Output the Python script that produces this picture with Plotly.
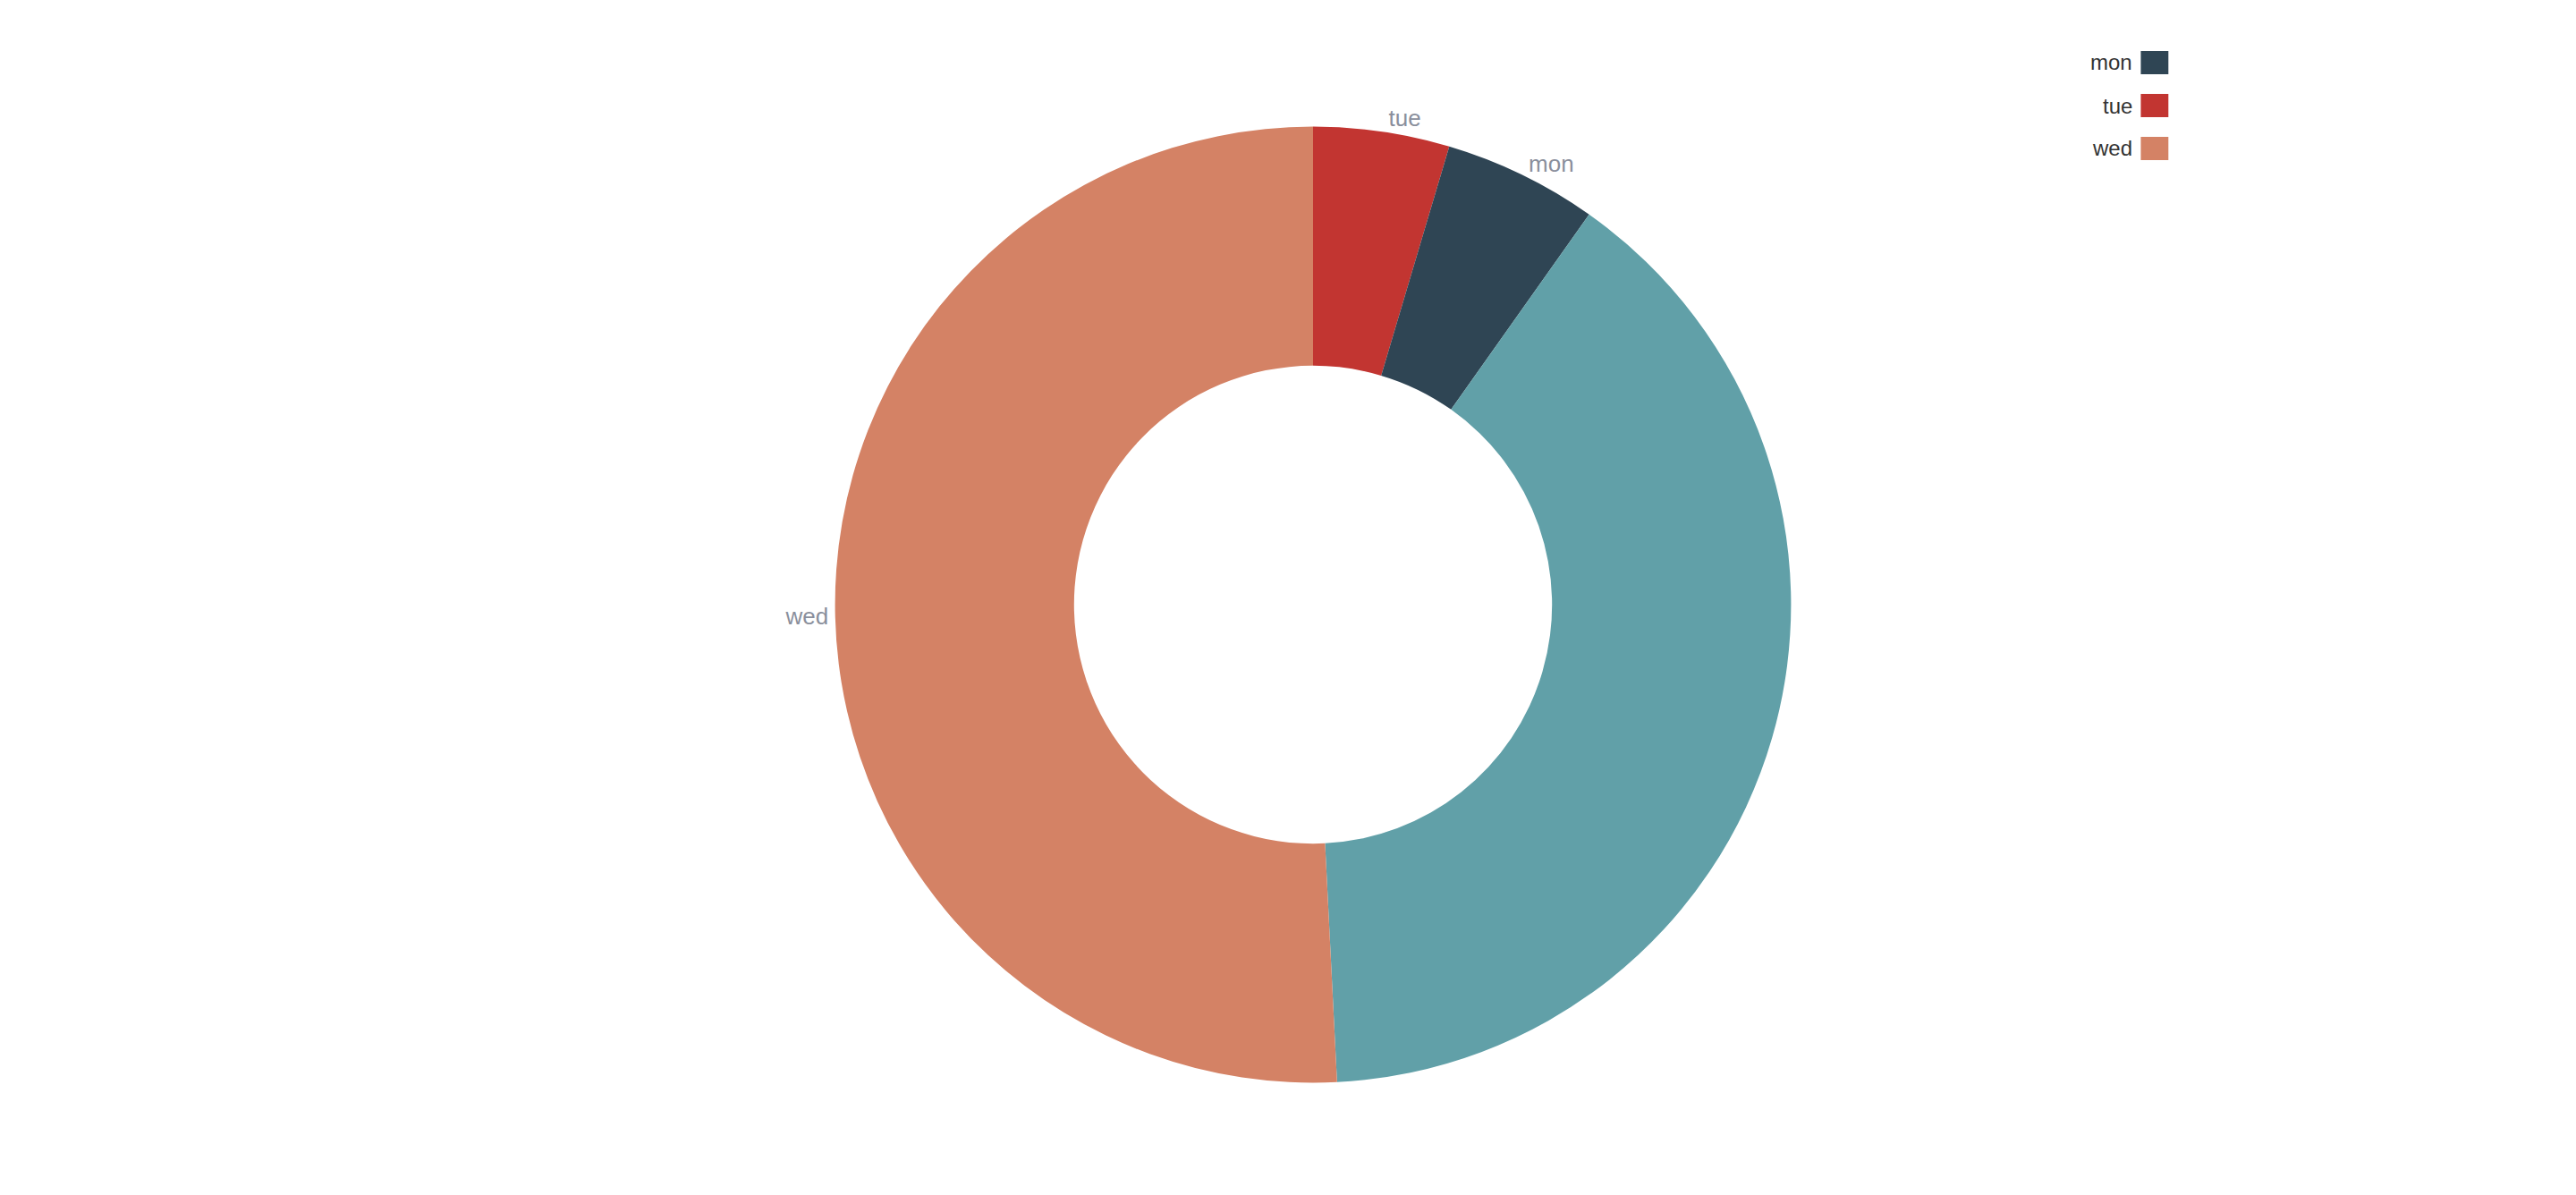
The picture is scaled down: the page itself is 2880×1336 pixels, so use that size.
import plotly.graph_objects as go

labels = ["tue", "mon", "", "wed"]
values = [46, 52, 394, 508]
colors = ["#c23531", "#2f4554", "#61a0a8", "#d48265"]
legend_names = ["mon", "tue", "wed"]
legend_colors = ["#2f4554", "#c23531", "#d48265"]

H = 1336
fig = go.Figure(go.Pie(
    labels=["tue", "mon", "other", "wed"], values=values, text=labels,
    texttemplate="%{text}", textposition="outside", textfont=dict(size=26, color="#8a8f9c", family="Liberation Sans"),
    marker=dict(colors=colors, line=dict(width=0)), hole=0.5, sort=False,
    direction="clockwise", rotation=0, showlegend=False, hoverinfo="label+value+percent",
    domain=dict(x=[0, 1], y=[0.1, 0.9])))

shapes, annots = [], []
for i, (n, c) in enumerate(zip(legend_names, legend_colors)):
    yc = 1 - (62 + 48 * i) / H
    h = 13 / H
    shapes.append(dict(type="rect", xref="paper", yref="paper", x0=0.98, x1=0.996,
                       y0=yc - h, y1=yc + h, fillcolor=c, line=dict(width=0)))
    annots.append(dict(x=0.976, y=yc, xref="paper", yref="paper", text=n, showarrow=False,
                       xanchor="right", yanchor="middle", font=dict(size=24, color="#333", family="Liberation Sans")))

fig.update_layout(autosize=True, height=H, margin=dict(l=0, r=0, t=0, b=0), paper_bgcolor="white",
                  shapes=shapes, annotations=annots, showlegend=False)
fig.write_html("out.html", default_width="100%", default_height="1336px")
